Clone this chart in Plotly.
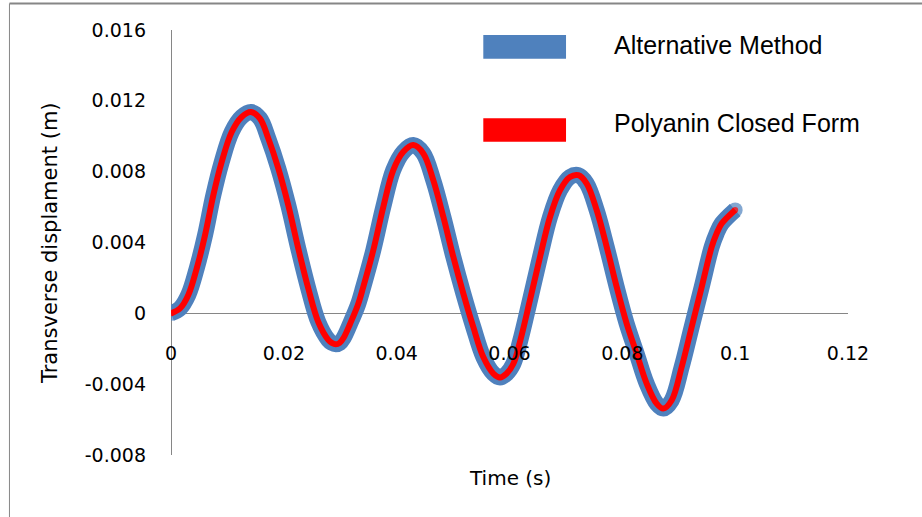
import plotly.graph_objects as go

# Time (s)
time_s = [0.0, 0.0016, 0.00307, 0.00456, 0.00603, 0.0075, 0.00899, 0.01076, 0.01253, 0.01418,
          0.01578, 0.01725, 0.01902, 0.02079, 0.02256, 0.02434, 0.02611, 0.02788, 0.0285, 0.0292,
          0.0299, 0.0306, 0.03173, 0.03315, 0.03409, 0.03586, 0.03763, 0.0394, 0.04118, 0.04295,
          0.04472, 0.04649, 0.04827, 0.05004, 0.05181, 0.05358, 0.05536, 0.05714, 0.05832, 0.0595,
          0.06068, 0.06186, 0.06363, 0.06541, 0.06718, 0.06895, 0.07072, 0.0722, 0.07368, 0.07546,
          0.07723, 0.079, 0.08077, 0.08255, 0.08432, 0.08609, 0.08726, 0.08875, 0.09052, 0.09229,
          0.09407, 0.09584, 0.09673, 0.09761, 0.1]

# Transverse displacement (m) - Alternative Method
alt_method = [0.0, 0.00028, 0.00104, 0.00254, 0.00441, 0.00667, 0.00855, 0.01024, 0.01109, 0.01137,
              0.01100, 0.00987, 0.00818, 0.00610, 0.00366, 0.00140, -0.00049, -0.00150, -0.00167, -0.00175,
              -0.00167, -0.00138, -0.00060, 0.00050, 0.00150, 0.00357, 0.00601, 0.00809, 0.00912, 0.00950,
              0.00903, 0.00752, 0.00545, 0.00319, 0.00113, -0.00077, -0.00247, -0.00340, -0.00362, -0.00340,
              -0.00285, -0.00160, 0.00075, 0.00318, 0.00544, 0.00695, 0.00770, 0.00780, 0.00733, 0.00582,
              0.00375, 0.00149, -0.00058, -0.00228, -0.00397, -0.00510, -0.00538, -0.00491, -0.00303, -0.00077,
              0.00149, 0.00375, 0.00452, 0.00507, 0.00584]

# Transverse displacement (m) - Polyanin Closed Form
polyanin = [0.0, 0.00028, 0.00104, 0.00254, 0.00441, 0.00667, 0.00855, 0.01024, 0.01109, 0.01137,
            0.01100, 0.00987, 0.00818, 0.00610, 0.00366, 0.00140, -0.00049, -0.00150, -0.00167, -0.00175,
            -0.00167, -0.00138, -0.00060, 0.00050, 0.00150, 0.00357, 0.00601, 0.00809, 0.00912, 0.00950,
            0.00903, 0.00752, 0.00545, 0.00319, 0.00113, -0.00077, -0.00247, -0.00340, -0.00362, -0.00340,
            -0.00285, -0.00160, 0.00075, 0.00318, 0.00544, 0.00695, 0.00770, 0.00780, 0.00733, 0.00582,
            0.00375, 0.00149, -0.00058, -0.00228, -0.00397, -0.00510, -0.00538, -0.00491, -0.00303, -0.00077,
            0.00149, 0.00375, 0.00452, 0.00507, 0.00584]

series_names = ["Alternative Method", "Polyanin Closed Form"]

x_tickvals = [0, 0.02, 0.04, 0.06, 0.08, 0.1, 0.12]
x_ticktext = ["0", "0.02", "0.04", "0.06", "0.08", "0.1", "0.12"]
y_tickvals = [-0.008, -0.004, 0, 0.004, 0.008, 0.012, 0.016]
y_ticktext = ["-0.008", "-0.004", "0", "0.004", "0.008", "0.012", "0.016"]

BLUE = "#4F81BD"
RED = "#FF0000"
GRAY = "#868686"

# round end caps: markers only on first and last point
n = len(time_s)
blue_sizes = [15 if i in (0, n - 1) else 0 for i in range(n)]
red_sizes = [6 if i in (0, n - 1) else 0 for i in range(n)]

fig = go.Figure()
fig.add_trace(go.Scatter(x=time_s, y=alt_method, name=series_names[0], mode="lines+markers",
                         line=dict(color=BLUE, width=16, shape="spline", smoothing=1.0),
                         marker=dict(color=BLUE, size=blue_sizes, line=dict(width=0)),
                         showlegend=False))
fig.add_trace(go.Scatter(x=time_s, y=polyanin, name=series_names[1], mode="lines+markers",
                         line=dict(color=RED, width=6, shape="spline", smoothing=1.0),
                         marker=dict(color=RED, size=red_sizes, line=dict(width=0)),
                         showlegend=False))

tick_font = dict(family="DejaVu Sans", size=19, color="#000000")

fig.update_layout(
    width=922, height=517,
    margin=dict(l=171, r=74, t=30, b=62),
    paper_bgcolor="white", plot_bgcolor="white",
    xaxis=dict(range=[0, 0.12], tickvals=x_tickvals, ticktext=x_ticktext,
               showgrid=False, showline=False, ticks="",
               zeroline=True, zerolinecolor=GRAY, zerolinewidth=1,
               anchor="free", position=0.2706, tickfont=tick_font),
    yaxis=dict(range=[-0.008, 0.016], tickvals=y_tickvals, ticktext=y_ticktext,
               showgrid=False, showline=False, ticks="",
               zeroline=True, zerolinecolor=GRAY, zerolinewidth=1,
               ticklabelstandoff=24, tickfont=tick_font),
    font=dict(family="DejaVu Sans", color="#000000"),
)

shapes = []
# outer border (top and left)
shapes.append(dict(type="line", xref="paper", yref="paper", x0=-0.2386, x1=1.11, y0=1.0624, y1=1.0624,
                   line=dict(color=GRAY, width=2)))
shapes.append(dict(type="line", xref="paper", yref="paper", x0=-0.2386, x1=-0.2386, y0=1.0624, y1=-0.2,
                   line=dict(color=GRAY, width=1)))
# legend keys
shapes.append(dict(type="rect", xref="paper", yref="paper", x0=0.4613, x1=0.5835, y0=0.9325, y1=0.9882,
                   fillcolor=BLUE, line=dict(width=0)))
shapes.append(dict(type="rect", xref="paper", yref="paper", x0=0.4613, x1=0.5835, y0=0.7372, y1=0.7922,
                   fillcolor=RED, line=dict(width=0)))
fig.update_layout(shapes=shapes)

legend_font = dict(family="Liberation Sans, Arial", size=25, color="#000000")
fig.add_annotation(text=series_names[0], xref="paper", yref="paper", x=0.6514, y=0.9647,
                   xanchor="left", yanchor="middle", showarrow=False, font=legend_font)
fig.add_annotation(text=series_names[1], xref="paper", yref="paper", x=0.6514, y=0.78,
                   xanchor="left", yanchor="middle", showarrow=False, font=legend_font)

fig.add_annotation(text="Time (s)", xref="paper", yref="paper", x=0.5007, y=-0.054,
                   xanchor="center", yanchor="middle", showarrow=False,
                   font=dict(family="DejaVu Sans", size=20, color="#000000"))
fig.add_annotation(text="Transverse displament (m)", xref="paper", yref="paper", x=-0.1787, y=0.4988,
                   xanchor="center", yanchor="middle", textangle=-90, showarrow=False,
                   font=dict(family="DejaVu Sans", size=21, color="#000000"))

fig.write_html("out.html", config={"displayModeBar": False},
               post_script="document.body.style.margin='0';document.body.style.padding='0';")
